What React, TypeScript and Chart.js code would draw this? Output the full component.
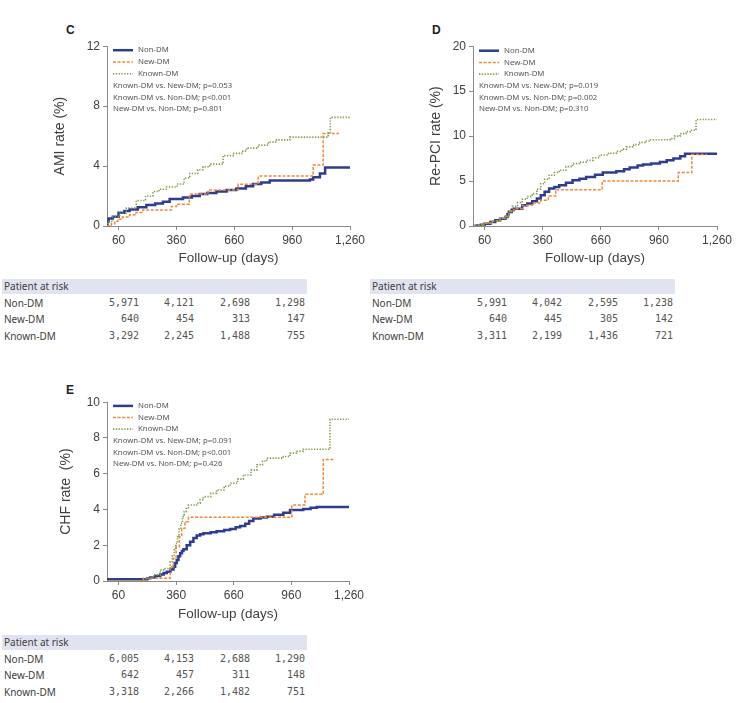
import { useEffect, useRef } from "react";
import { Chart, registerables } from "chart.js";

Chart.register(...registerables);

type Pt = [number, number];

// Shared axis ticks and group names
const X_TICKS = [60, 360, 660, 960, 1260];
const GROUPS = ["Non-DM", "New-DM", "Known-DM"];
const RISK_DAYS = [60, 360, 660, 960];

// Panel C: AMI cumulative rate (%)
const amiNonDM: Pt[] = [
  [0, 0], [2, 0.3], [8, 0.5], [30, 0.62], [60, 0.88], [90, 1.0], [117, 1.1], [160, 1.25], [204, 1.4],
  [250, 1.5], [290, 1.62], [325, 1.8], [394, 1.9], [440, 2.0], [481, 2.13], [520, 2.2], [567, 2.3],
  [620, 2.4], [671, 2.5], [720, 2.65], [758, 2.8], [800, 2.9], [844, 3.04], [1052, 3.1], [1069, 3.26],
  [1104, 3.5], [1131, 3.9], [1260, 3.9],
];
const amiNewDM: Pt[] = [
  [0, 0], [22, 0.15], [40, 0.3], [56, 0.45], [80, 0.6], [117, 0.75], [150, 0.9], [186, 1.07], [334, 1.3],
  [360, 1.45], [427, 2.13], [524, 2.4], [680, 2.78], [784, 3.33], [1069, 4.07], [1121, 6.18], [1203, 6.18],
];
const amiKnownDM: Pt[] = [
  [0, 0], [3, 0.3], [30, 0.6], [65, 0.85], [100, 1.2], [152, 1.7], [200, 2.0], [238, 2.3], [270, 2.45],
  [308, 2.6], [363, 2.8], [400, 3.2], [429, 3.5], [470, 3.75], [498, 3.95], [533, 4.13], [602, 4.7],
  [654, 4.85], [700, 5.0], [723, 5.2], [784, 5.4], [836, 5.6], [879, 5.75], [948, 5.93], [1147, 6.2],
  [1158, 7.25], [1260, 7.25],
];

// Panel D: repeat PCI cumulative rate (%)
const rpciNonDM: Pt[] = [
  [0, 0], [20, 0.05], [40, 0.15], [60, 0.26], [90, 0.45], [115, 0.63], [140, 0.8], [168, 1.0], [178, 1.3],
  [185, 1.56], [200, 1.8], [211, 1.93], [254, 2.3], [280, 2.5], [306, 2.75], [330, 3.05], [350, 3.41],
  [370, 3.8], [393, 4.16], [420, 4.35], [445, 4.53], [480, 4.8], [514, 5.08], [550, 5.25], [584, 5.45],
  [630, 5.7], [670, 5.95], [740, 6.1], [780, 6.3], [809, 6.5], [850, 6.72], [878, 6.85], [920, 6.95],
  [965, 7.12], [1000, 7.3], [1035, 7.5], [1070, 7.75], [1095, 8.05], [1260, 8.05],
];
const rpciNewDM: Pt[] = [
  [0, 0], [30, 0.1], [60, 0.3], [100, 0.55], [140, 0.85], [168, 1.05], [185, 1.6], [211, 1.93], [254, 2.3],
  [306, 2.56], [350, 2.86], [389, 3.34], [427, 4.04], [667, 5.0], [1060, 5.94], [1130, 7.94], [1208, 7.94],
];
const rpciKnownDM: Pt[] = [
  [0, 0], [30, 0.1], [60, 0.3], [100, 0.55], [140, 0.85], [168, 1.1], [185, 1.7], [202, 2.2], [230, 2.6],
  [254, 2.97], [280, 3.3], [306, 3.6], [330, 4.1], [350, 4.7], [370, 5.2], [393, 5.64], [420, 5.95],
  [445, 6.2], [480, 6.6], [514, 6.94], [550, 7.1], [584, 7.3], [620, 7.6], [653, 7.9], [700, 8.1],
  [740, 8.3], [770, 8.55], [792, 8.8], [830, 9.05], [861, 9.3], [890, 9.45], [913, 9.6], [1017, 9.72],
  [1040, 10.0], [1069, 10.28], [1100, 10.5], [1121, 10.65], [1152, 11.84], [1260, 11.84],
];

// Panel E: CHF cumulative rate (%)
const chfNonDM: Pt[] = [
  [0, 0], [3, 0.1], [190, 0.1], [210, 0.15], [225, 0.2], [250, 0.28], [277, 0.37], [295, 0.45], [311, 0.52],
  [330, 0.65], [346, 0.8], [355, 1.0], [363, 1.18], [372, 1.38], [381, 1.55], [390, 1.68], [398, 1.77],
  [415, 2.0], [433, 2.2], [450, 2.4], [467, 2.54], [485, 2.62], [502, 2.67], [540, 2.72], [571, 2.78],
  [610, 2.85], [641, 2.91], [670, 3.0], [693, 3.08], [720, 3.2], [740, 3.35], [762, 3.5], [800, 3.55],
  [832, 3.6], [870, 3.7], [918, 3.82], [953, 3.97], [1022, 4.03], [1060, 4.1], [1092, 4.14], [1260, 4.14],
];
const chfNewDM: Pt[] = [
  [0, 0], [190, 0.15], [320, 0.15], [329, 0.8], [346, 1.27], [360, 1.92], [377, 2.48], [389, 2.95],
  [406, 3.32], [424, 3.56], [962, 4.25], [1031, 4.85], [1126, 6.8], [1187, 6.8],
];
const chfKnownDM: Pt[] = [
  [0, 0], [180, 0.05], [207, 0.15], [242, 0.34], [277, 0.62], [303, 0.7], [329, 1.08], [340, 1.4],
  [350, 1.74], [358, 2.1], [367, 2.48], [375, 2.9], [384, 3.23], [393, 3.6], [402, 3.88], [413, 4.1],
  [424, 4.25], [467, 4.35], [485, 4.55], [502, 4.72], [540, 4.9], [571, 5.09], [610, 5.3], [641, 5.47],
  [680, 5.7], [710, 5.93], [750, 6.2], [780, 6.5], [810, 6.7], [832, 6.87], [918, 6.96], [953, 7.15],
  [990, 7.25], [1022, 7.37], [1161, 9.05], [1260, 9.05],
];

// Log-rank comparisons
const amiPValues = ["Known-DM vs. New-DM; p=0.053", "Known-DM vs. Non-DM; p<0.001", "New-DM vs. Non-DM; p=0.801"];
const rpciPValues = ["Known-DM vs. New-DM; p=0.019", "Known-DM vs. Non-DM; p=0.002", "New-DM vs. Non-DM; p=0.310"];
const chfPValues = ["Known-DM vs. New-DM; p=0.091", "Known-DM vs. Non-DM; p<0.001", "New-DM vs. Non-DM; p=0.426"];

// Numbers at risk (Non-DM, New-DM, Known-DM) at each day of RISK_DAYS
const amiAtRisk = [[5971, 4121, 2698, 1298], [640, 454, 313, 147], [3292, 2245, 1488, 755]];
const rpciAtRisk = [[5991, 4042, 2595, 1238], [640, 445, 305, 142], [3311, 2199, 1436, 721]];
const chfAtRisk = [[6005, 4153, 2688, 1290], [642, 457, 311, 148], [3318, 2266, 1482, 751]];

const COLORS = ["#2e3d8f", "#f0883a", "#7f9e4a"];
const DASHES = [[], [3, 1.6], [1.3, 1.5]];
const WIDTHS = [2.5, 1.5, 1.6];
const AXIS_GREY = "#8a8a8a";
const TEXT = "#404040";

const insetLegend = {
  id: "insetLegend",
  afterDraw(chart: any) {
    const opts = chart.options.plugins.insetLegend;
    const { ctx, chartArea } = chart;
    const x0 = chartArea.left + 6;
    let y = chartArea.top + opts.firstRow;
    ctx.save();
    ctx.font = "7.8px 'Noto Sans'";
    ctx.fillStyle = "#555";
    ctx.textBaseline = "middle";
    GROUPS.forEach((g, i) => {
      ctx.beginPath();
      ctx.setLineDash(DASHES[i]);
      ctx.strokeStyle = COLORS[i];
      ctx.lineWidth = WIDTHS[i];
      ctx.moveTo(x0, y);
      ctx.lineTo(x0 + 20, y);
      ctx.stroke();
      ctx.setLineDash([]);
      ctx.fillText(g, x0 + 25, y);
      y += opts.rowGap;
    });
    ctx.textAlign = "left";
    opts.notes.forEach((n: string) => {
      ctx.fillText(n, x0, y);
      y += opts.rowGap;
    });
    ctx.restore();
  },
};

type PanelProps = {
  left: number;
  top: number;
  width: number;
  height: number;
  yWidth: number;
  xHeight: number;
  padRight: number;
  yTitle: string;
  yMax: number;
  yStep: number;
  series: Pt[][];
  notes: string[];
  firstRow: number;
  rowGap: number;
};

function KMPanel(p: PanelProps) {
  const ref = useRef<HTMLCanvasElement>(null);
  useEffect(() => {
    if (!ref.current) return;
    // draw Known-DM first, Non-DM last so the solid line sits on top
    const order = [2, 1, 0];
    const chart = new Chart(ref.current, {
      type: "line",
      data: {
        datasets: order.map((i) => ({
          label: GROUPS[i],
          data: p.series[i].map(([x, y]) => ({ x, y })),
          borderColor: COLORS[i],
          borderDash: DASHES[i],
          borderWidth: WIDTHS[i],
          stepped: true,
          pointRadius: 0,
          fill: false,
        })),
      },
      options: {
        animation: false,
        responsive: false,
        devicePixelRatio: 1,
        layout: { padding: { top: 10, right: p.padRight, left: 0, bottom: 0 } },
        plugins: {
          legend: { display: false },
          tooltip: { enabled: false },
          insetLegend: { notes: p.notes, firstRow: p.firstRow, rowGap: p.rowGap },
        } as any,
        scales: {
          x: {
            type: "linear",
            min: 0,
            max: 1260,
            afterBuildTicks: (axis: any) => {
              axis.ticks = X_TICKS.map((v) => ({ value: v }));
            },
            afterFit: (axis: any) => {
              axis.height = p.xHeight;
            },
            ticks: {
              autoSkip: false,
              maxRotation: 0,
              padding: 3,
              color: TEXT,
              font: { family: "'Liberation Sans'", size: 12 },
              callback: (v: any) => Number(v).toLocaleString("en-US"),
            },
            grid: { drawOnChartArea: false, drawTicks: true, tickLength: 4, color: AXIS_GREY },
            border: { color: AXIS_GREY, width: 1 },
            title: {
              display: true,
              text: "Follow-up (days)",
              color: TEXT,
              font: { family: "'Liberation Sans'", size: 13.5 },
              padding: { top: 2, bottom: 4 },
            },
          },
          y: {
            type: "linear",
            min: 0,
            max: p.yMax,
            afterFit: (axis: any) => {
              axis.width = p.yWidth;
            },
            ticks: {
              stepSize: p.yStep,
              padding: 3,
              color: TEXT,
              font: { family: "'Liberation Sans'", size: 12 },
            },
            grid: { drawOnChartArea: false, drawTicks: true, tickLength: 4, color: AXIS_GREY },
            border: { color: AXIS_GREY, width: 1 },
            title: {
              display: true,
              text: p.yTitle,
              color: TEXT,
              font: { family: "'Liberation Sans'", size: 14 },
              padding: { top: 3, bottom: 0 },
            },
          },
        },
      },
      plugins: [insetLegend],
    });
    return () => chart.destroy();
  }, []);
  return (
    <canvas
      ref={ref}
      width={p.width}
      height={p.height}
      style={{ position: "absolute", left: p.left, top: p.top, width: p.width, height: p.height }}
    />
  );
}

const COL_RIGHT = [137, 192, 248, 303];

function RiskTable({ left, top, counts }: { left: number; top: number; counts: number[][] }) {
  const label = { fontFamily: "'Noto Sans'", fontSize: 10, color: TEXT };
  return (
    <div style={{ position: "absolute", left, top, width: 305 }}>
      <div
        style={{
          ...label,
          height: 15,
          lineHeight: "15px",
          background: "#e1e3f0",
          paddingLeft: 2,
          whiteSpace: "nowrap",
        }}
      >
        Patient at risk
      </div>
      {GROUPS.map((g, i) => (
        <div key={g} style={{ position: "absolute", left: 0, top: 16 + i * 16.3, width: 305, height: 16 }}>
          <span style={{ ...label, position: "absolute", left: 2, lineHeight: "16px", whiteSpace: "nowrap" }}>{g}</span>
          {counts[i].map((c, j) => (
            <span
              key={RISK_DAYS[j]}
              style={{
                position: "absolute",
                right: 305 - COL_RIGHT[j],
                lineHeight: "16px",
                fontFamily: "'DejaVu Sans Mono'",
                fontSize: 10,
                color: "#555",
                whiteSpace: "nowrap",
              }}
            >
              {c.toLocaleString("en-US")}
            </span>
          ))}
        </div>
      ))}
    </div>
  );
}

function PanelLetter({ left, top, text }: { left: number; top: number; text: string }) {
  return (
    <div
      style={{
        position: "absolute",
        left,
        top,
        fontFamily: "'Liberation Sans'",
        fontWeight: "bold",
        fontSize: 12,
        lineHeight: "12px",
        color: "#222",
      }}
    >
      {text}
    </div>
  );
}

export default function App() {
  return (
    <div style={{ position: "absolute", left: 0, top: 0, width: 744, height: 703, background: "#fff", overflow: "hidden" }}>
      <PanelLetter left={66} top={24} text="C" />
      <PanelLetter left={432} top={24} text="D" />
      <PanelLetter left={66} top={384} text="E" />

      <KMPanel
        left={49} top={36} width={326} height={234} yWidth={58} xHeight={44} padRight={25}
        yTitle="AMI rate (%)" yMax={12} yStep={4}
        series={[amiNonDM, amiNewDM, amiKnownDM]} notes={amiPValues}
        firstRow={4} rowGap={11.8}
      />
      <KMPanel
        left={425} top={36} width={319} height={234} yWidth={48} xHeight={44} padRight={27}
        yTitle="Re-PCI rate (%)" yMax={20} yStep={5}
        series={[rpciNonDM, rpciNewDM, rpciKnownDM]} notes={rpciPValues}
        firstRow={4.5} rowGap={11.7}
      />
      <KMPanel
        left={55} top={392} width={320} height={234} yWidth={52} xHeight={45} padRight={26}
        yTitle="CHF rate  (%)" yMax={10} yStep={2}
        series={[chfNonDM, chfNewDM, chfKnownDM]} notes={chfPValues}
        firstRow={3.7} rowGap={11.6}
      />

      <RiskTable left={2} top={279} counts={amiAtRisk} />
      <RiskTable left={370} top={279} counts={rpciAtRisk} />
      <RiskTable left={2} top={635} counts={chfAtRisk} />
    </div>
  );
}
